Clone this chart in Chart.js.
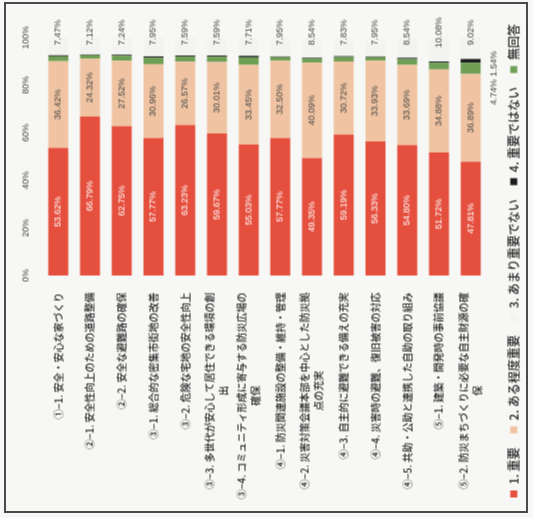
<!DOCTYPE html>
<html>
<head>
<meta charset="utf-8">
<script src="https://cdn.jsdelivr.net/npm/chart.js@4.4.0/dist/chart.umd.min.js"></script>
<style>
  body { margin: 0; background: #f7f7f5; }
  #page { position: relative; width: 533px; height: 518px; overflow: hidden; background: #f7f7f5; }
  #frame { position: absolute; left: 4px; top: 2px; width: 524px; height: 511px; border: 2px solid #4a4a4a; box-sizing: border-box; }
  #rot { position: absolute; left: 7.5px; top: -7.5px; width: 518px; height: 533px; transform: rotate(-90deg); }
</style>
</head>
<body>
<div id="page">
  <div id="frame"></div>
  <div id="rot"><canvas id="chart" width="518" height="533"></canvas></div>
</div>
<script>
const categories = [
  '①−1. 安全・安心な家づくり',
  '②−1. 安全性向上のための道路整備',
  '②−2. 安全な避難路の確保',
  '③−1. 総合的な密集市街地の改善',
  '③−2. 危険な宅地の安全性向上',
  '③−3. 多世代が安心して居住できる環境の創\n出',
  '③−4. コミュニティ形成に寄与する防災広場の\n確保',
  '④−1. 防災関連施設の整備・維持・管理',
  '④−2. 災害対策会議本部を中心とした防災拠\n点の充実',
  '④−3. 自主的に避難できる備えの充実',
  '④−4. 災害時の避難、復旧被害の対応',
  '④−5. 共助・公助と連携した自助の取り組み',
  '⑤−1. 建築・開発時の事前協議',
  '⑤−2. 防災まちづくりに必要な自主財源の確\n保'
];

const seriesNames = ['1. 重要', '2. ある程度重要', '3. あまり重要でない', '4. 重要ではない', '無回答'];

const important    = [53.62, 66.79, 62.75, 57.77, 63.23, 59.67, 55.03, 57.77, 49.35, 59.19, 56.33, 54.80, 51.72, 47.81];
const fairly       = [36.42, 24.32, 27.52, 30.96, 26.57, 30.01, 33.45, 32.50, 40.09, 30.72, 33.93, 33.69, 34.88, 36.89];
const notVery      = [7.47, 7.12, 7.24, 7.95, 7.59, 7.59, 7.71, 7.95, 8.54, 7.83, 7.95, 8.54, 10.08, 9.02];
const notImportant = [0.43, 0.30, 0.42, 0.56, 0.44, 0.46, 0.64, 0.30, 0.34, 0.38, 0.30, 0.50, 0.56, 1.54];
const noAnswer     = [2.06, 1.47, 2.07, 2.76, 2.17, 2.27, 3.17, 1.48, 1.68, 1.88, 1.49, 2.47, 2.76, 4.74];

const tickValues = [0, 20, 40, 60, 80, 100];

const NUM_FONT = '"Liberation Sans", Arial, sans-serif';
const JP_FONT = '"Noto Sans CJK JP", sans-serif';

// stacking goes 1, 2, 無回答, 4, then 3 at the far end
const datasets = [
  { label: seriesNames[0], data: important, backgroundColor: '#e54f3e', kind: 'inside', legendRank: 0 },
  { label: seriesNames[1], data: fairly, backgroundColor: '#f0c4a2', kind: 'inside', legendRank: 1 },
  { label: seriesNames[4], data: noAnswer, backgroundColor: '#6f9f55', kind: 'small', legendRank: 4 },
  { label: seriesNames[3], data: notImportant, backgroundColor: '#1c1c1c', kind: 'small', legendRank: 3 },
  { label: seriesNames[2], data: notVery, backgroundColor: '#f3f3f1', kind: 'end', legendRank: 2 }
];

const fmt = v => v.toFixed(2) + '%';

const valueLabels = {
  id: 'valueLabels',
  afterDatasetsDraw(chart) {
    const { ctx } = chart;
    ctx.save();
    ctx.font = '9px ' + NUM_FONT;
    ctx.textBaseline = 'middle';
    ctx.textAlign = 'center';
    chart.data.datasets.forEach((ds, di) => {
      const meta = chart.getDatasetMeta(di);
      meta.data.forEach((bar, i) => {
        const { x, y, base } = bar.getProps(['x', 'y', 'base'], true);
        const v = ds.data[i];
        if (ds.kind === 'inside') {
          ctx.fillStyle = di === 0 ? '#ffffff' : '#444';
          ctx.fillText(fmt(v), (x + base) / 2, y);
        } else if (ds.kind === 'end') {
          ctx.fillStyle = '#444';
          ctx.fillText(fmt(v), x + 5, y);
        } else if (notImportant[i] >= 1) {
          // thin segments only get a label when they are wide enough to matter
          ctx.fillStyle = '#444';
          const shift = ds.data === noAnswer ? -24 : -3;
          ctx.fillText(fmt(v), (x + base) / 2 + shift, y + 23);
        }
      });
    });
    ctx.restore();
  }
};

const categoryLabels = {
  id: 'categoryLabels',
  afterDraw(chart) {
    const { ctx, chartArea, scales } = chart;
    const right = chartArea.left - 17;
    const lh = 14;
    ctx.save();
    ctx.font = '500 10px ' + JP_FONT;
    ctx.fillStyle = '#262626';
    ctx.textBaseline = 'middle';
    categories.forEach((label, i) => {
      const lines = label.split('\n');
      const yc = scales.y.getPixelForValue(i);
      const top = yc - (lines.length - 1) * lh / 2;
      const w0 = ctx.measureText(lines[0]).width;
      lines.forEach((line, k) => {
        ctx.textAlign = k === 0 ? 'right' : 'center';
        ctx.fillText(line, k === 0 ? right : right - w0 / 2, top + k * lh);
      });
    });
    ctx.restore();
  }
};

new Chart(document.getElementById('chart'), {
  type: 'bar',
  data: {
    labels: categories,
    datasets: datasets.map(d => ({ ...d, borderWidth: 0, barPercentage: 0.63, categoryPercentage: 1 }))
  },
  options: {
    indexAxis: 'y',
    responsive: false,
    animation: false,
    layout: { padding: { left: 7, right: 0, top: 9.2, bottom: 3.8 } },
    scales: {
      x: {
        stacked: true,
        position: 'top',
        min: 0,
        max: 100,
        afterBuildTicks: s => { s.ticks = tickValues.map(v => ({ value: v })); },
        ticks: { callback: v => v + '%', color: '#444', font: { family: NUM_FONT, size: 9 }, padding: 11, maxRotation: 0 },
        grid: { display: false, drawTicks: false },
        border: { display: false }
      },
      y: {
        stacked: true,
        ticks: { display: false },
        grid: { display: false, drawTicks: false },
        border: { display: false },
        afterFit: s => { s.width = 236; }
      },
      // empty strip that keeps the bars clear of the right edge
      edge: {
        type: 'category',
        position: 'right',
        ticks: { display: false },
        grid: { display: false, drawTicks: false },
        border: { display: false },
        afterFit: s => { s.width = 37; }
      }
    },
    plugins: {
      legend: {
        position: 'bottom',
        align: 'start',
        // blank title only adds a little space above the legend row
        title: { display: true, text: '', font: { size: 1 }, padding: { top: 6, bottom: 0 } },
        labels: {
          boxWidth: 7,
          boxHeight: 7,
          padding: 14,
          color: '#262626',
          font: { family: JP_FONT, size: 12, weight: '500' },
          sort: (a, b) => datasets[a.datasetIndex].legendRank - datasets[b.datasetIndex].legendRank
        }
      },
      tooltip: { enabled: false }
    }
  },
  plugins: [valueLabels, categoryLabels]
});
</script>
</body>
</html>
